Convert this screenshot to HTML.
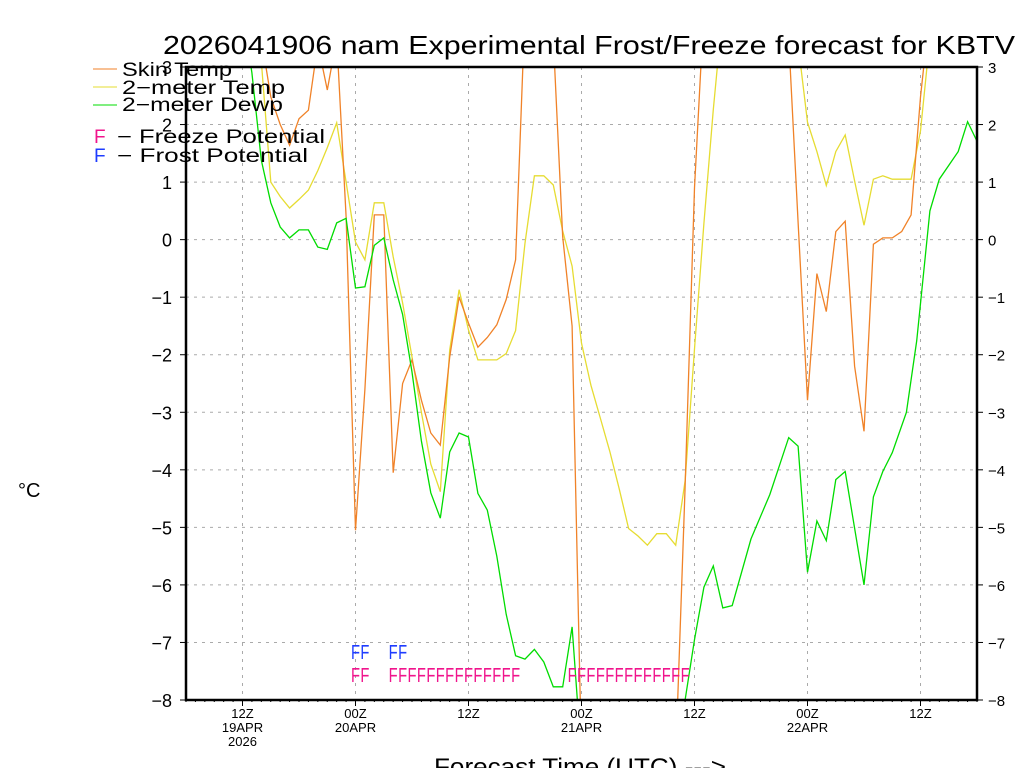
<!DOCTYPE html>
<html><head><meta charset="utf-8">
<style>
html,body{margin:0;padding:0;background:#fff;}
svg{display:block;font-family:"Liberation Sans",sans-serif;}
</style></head>
<body>
<svg id="chart" width="1024" height="768" viewBox="0 0 1024 768" xmlns="http://www.w3.org/2000/svg">
<defs><clipPath id="plotclip"><rect x="186" y="67" width="791" height="633"/></clipPath></defs>
<rect x="0" y="0" width="1024" height="768" fill="#fff"/>
<text x="163" y="54" font-size="26" textLength="852" lengthAdjust="spacingAndGlyphs" fill="#000">2026041906 nam Experimental Frost/Freeze forecast for KBTV</text>
<g id="grid"></g>
<g id="series" clip-path="url(#plotclip)"></g>
<g id="axes"></g>
<g id="ff"></g>
<g id="legend">
  <line x1="93" y1="69" x2="117" y2="69" stroke="#f08228" stroke-width="1"/>
  <text x="122" y="76" font-size="19" textLength="110" lengthAdjust="spacingAndGlyphs">Skin Temp</text>
  <line x1="93" y1="87" x2="117" y2="87" stroke="#e6dc32" stroke-width="1"/>
  <text x="122" y="94" font-size="19" textLength="163" lengthAdjust="spacingAndGlyphs">2−meter Temp</text>
  <line x1="93" y1="105" x2="117" y2="105" stroke="#00dc00" stroke-width="1"/>
  <text x="122" y="111" font-size="19" textLength="161" lengthAdjust="spacingAndGlyphs">2−meter Dewp</text>
  <text x="94" y="143" font-size="19" fill="#f0148c">F</text>
  <text x="117" y="143" font-size="19" textLength="208" lengthAdjust="spacingAndGlyphs">−  Freeze Potential</text>
  <text x="94" y="162" font-size="19" fill="#1e3cff">F</text>
  <text x="117" y="162" font-size="19" textLength="191" lengthAdjust="spacingAndGlyphs">−  Frost Potential</text>
</g>
<text x="18" y="497" font-size="20">°C</text>
<text x="434" y="775" font-size="24" textLength="292" lengthAdjust="spacingAndGlyphs">Forecast Time (UTC) ---&gt;</text>
</svg>
<script>
// hours since 06Z 19APR
const skinHours = [0,8,9,10,11,12,13,14,15,16,17,18,19,20,21,22,23,24,25,26,27,28,29,30,31,32,33,34,35,36,38,39,40,41,42,52,53,54,55,63,64,65,66,67,68,69,70,71,72,73,74,75,76,77,78,79,84];
const skinVals  = [5,3.5,2.48,2.0,1.64,2.1,2.25,3.4,2.6,3.5,0.4,-5.05,-2.6,0.43,0.43,-4.05,-2.5,-2.09,-2.79,-3.36,-3.57,-2.04,-1.0,-1.45,-1.87,-1.7,-1.48,-1.04,-0.35,4,5,3.5,0.05,-1.5,-9,-9,-4.3,0.9,4,5,3.5,0.3,-2.79,-0.59,-1.25,0.14,0.32,-2.2,-3.33,-0.08,0.03,0.03,0.14,0.43,2.48,4,5];
const tempHours = [0,7,8,9,10,11,12,13,14,15,16,17,18,19,20,21,22,23,24,25,26,27,28,29,30,31,32,33,34,35,36,37,38,39,40,41,42,43,44,45,46,47,48,49,50,51,52,53,54,55,56,57,64,65,66,67,68,69,70,71,72,73,74,75,76,77,78,79,84];
const tempVals  = [5,4.5,3.1,1.0,0.75,0.55,0.7,0.86,1.2,1.6,2.03,1.0,-0.04,-0.35,0.64,0.64,-0.3,-1.1,-2.04,-3.0,-3.9,-4.38,-1.92,-0.87,-1.57,-2.09,-2.09,-2.09,-1.98,-1.58,-0.06,1.11,1.11,0.95,0.15,-0.46,-1.8,-2.53,-3.1,-3.68,-4.33,-5.02,-5.15,-5.31,-5.11,-5.11,-5.31,-4.19,-1.9,0.28,2.26,4,5,3.4,2.04,1.53,0.94,1.53,1.82,1.02,0.25,1.05,1.11,1.05,1.05,1.05,1.89,3.5,5];
const dewpHours = [0,6,7,8,9,10,11,12,13,14,15,16,17,18,19,20,21,22,23,24,25,26,27,28,29,30,31,32,33,34,35,36,37,38,39,40,41,42,52,53,54,55,56,57,58,60,62,64,65,66,67,68,69,70,72,73,74,75,76.5,77.6,79,80,82,83,84];
const dewpVals  = [5,4,2.9,1.38,0.64,0.22,0.03,0.17,0.17,-0.13,-0.17,0.29,0.37,-0.84,-0.82,-0.1,0.03,-0.7,-1.3,-2.3,-3.5,-4.4,-4.84,-3.69,-3.36,-3.43,-4.41,-4.7,-5.5,-6.51,-7.23,-7.29,-7.12,-7.34,-7.77,-7.77,-6.73,-9,-9,-8.0,-6.95,-6.04,-5.67,-6.4,-6.36,-5.2,-4.43,-3.44,-3.59,-5.78,-4.89,-5.23,-4.17,-4.03,-6.0,-4.47,-4.03,-3.7,-3.0,-1.76,0.5,1.05,1.53,2.05,1.71];
const frostHours  = [18,19,22,23];
const freezeHours = [18,19,22,23,24,25,26,27,28,29,30,31,32,33,34,35,41,42,43,44,45,46,47,48,49,50,51,52,53];
const yTicks = [-8,-7,-6,-5,-4,-3,-2,-1,0,1,2,3];
const xTickHours  = [6,18,30,42,54,66,78];
const xTickLabels = ["12Z","00Z","12Z","00Z","12Z","00Z","12Z"];
const xTickDates  = ["19APR","20APR","","21APR","","22APR",""];
const xTickYears  = ["2026","","","","","",""];

const NS="http://www.w3.org/2000/svg";
const X0=186,X1=977,Y0=67,Y1=700,HMAX=84,VMIN=-8,VMAX=3;
function xs(h){return X0+(h/HMAX)*(X1-X0);}
function ys(v){return Y0+(VMAX-v)/(VMAX-VMIN)*(Y1-Y0);}
function mk(tag,attrs,parent){const e=document.createElementNS(NS,tag);for(const k in attrs)e.setAttribute(k,attrs[k]);parent.appendChild(e);return e;}
const grid=document.getElementById('grid'),axes=document.getElementById('axes'),ser=document.getElementById('series'),ff=document.getElementById('ff');
yTicks.forEach(v=>{
  const y=ys(v);
  if(v>VMIN&&v<VMAX){const g=mk('line',{x1:X0,x2:X1,y1:y,y2:y,stroke:'#aaa','stroke-dasharray':'3,5','stroke-width':1},grid);
  
  }
  const t1=mk('line',{x1:X0-6,x2:X0,y1:y,y2:y,stroke:'#000'},axes);
  
  
  const t2=mk('line',{x1:X1,x2:X1+6,y1:y,y2:y,stroke:'#000'},axes);
  
  
  const lab=(v<0?'−':'')+Math.abs(v);
  const l=mk('text',{x:172,y:y+7,'font-size':18,'text-anchor':'end'},axes);l.textContent=lab;
  
  
  const r=mk('text',{x:988,y:y+6,'font-size':15},axes);r.textContent=lab;
  
  
});
xTickHours.forEach((h,i)=>{
  const x=xs(h);
  const g=mk('line',{x1:x,x2:x,y1:Y0,y2:Y1,stroke:'#aaa','stroke-dasharray':'3,5'},grid);
  
  
  const t=mk('line',{x1:x,x2:x,y1:Y1,y2:Y1+6,stroke:'#000'},axes);
  
  
  [[xTickLabels[i],718],[xTickDates[i],732],[xTickYears[i],746]].forEach(([s,yy])=>{
    if(!s)return;
    const tx=mk('text',{x:x,y:yy,'font-size':13,'text-anchor':'middle'},axes);tx.textContent=s;
    
    
  });
});
for(let h=0;h<=HMAX;h++){const m=mk('line',{x1:xs(h),x2:xs(h),y1:Y1,y2:Y1+2,stroke:'#000'},axes);
  
  }
const fr=mk('rect',{x:X0,y:Y0,width:X1-X0,height:Y1-Y0,fill:'none',stroke:'#000','stroke-width':2.5},axes);


function series(hs,vs,color,name){
  const p=mk('polyline',{points:hs.map((h,i)=>xs(h).toFixed(1)+','+ys(vs[i]).toFixed(1)).join(' '),fill:'none',stroke:color,'stroke-width':1.3},ser);
  
  
}
series(tempHours,tempVals,'#e6dc32','line-2m-temp');
series(skinHours,skinVals,'#f08228','line-skin-temp');
series(dewpHours,dewpVals,'#00dc00','line-2m-dewp');
frostHours.forEach(h=>{const t=mk('text',{x:xs(h)-4.5,y:659,'font-size':20,fill:'#1e3cff',textLength:9,lengthAdjust:'spacingAndGlyphs'},ff);t.textContent='F';
  
  });
freezeHours.forEach(h=>{const t=mk('text',{x:xs(h)-4.5,y:682,'font-size':20,fill:'#f0148c',textLength:9,lengthAdjust:'spacingAndGlyphs'},ff);t.textContent='F';
  
  });
</script>
</body></html>
